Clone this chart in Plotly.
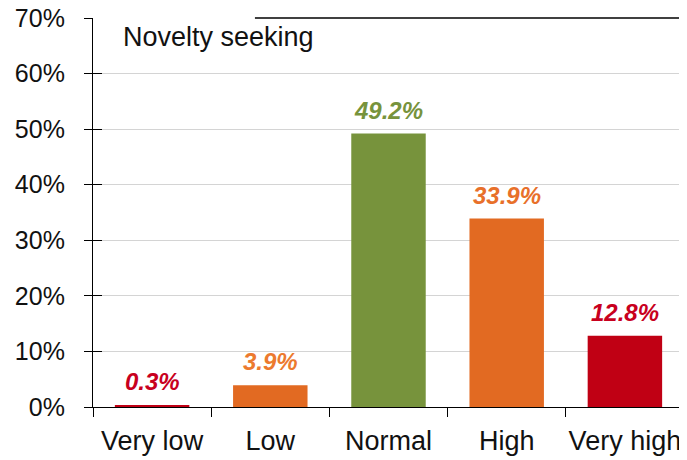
import plotly.graph_objects as go

categories = ["Very low", "Low", "Normal", "High", "Very high"]
values = [0.3, 3.9, 49.2, 33.9, 12.8]
bar_colors = ["#C00014", "#E26A22", "#77933C", "#E26A22", "#C00014"]
label_colors = ["#C8001E", "#EC7A2E", "#77933C", "#E8702A", "#C8001E"]
y_ticks = [0, 10, 20, 30, 40, 50, 60, 70]
y_tick_text = [f"{v}%" for v in y_ticks]
title_text = "Novelty seeking"

FONT = "Liberation Sans, Arial, sans-serif"

fig = go.Figure()
fig.add_trace(go.Bar(
    x=categories, y=values,
    marker=dict(color=bar_colors, line=dict(width=0)),
    showlegend=False, hoverinfo="skip",
))
# invisible trace to carry the inner half of the crossing y ticks
fig.add_trace(go.Scatter(x=[categories[0]], y=[0], yaxis="y2", mode="markers",
                         marker=dict(opacity=0), showlegend=False, hoverinfo="skip"))

for c, v, col in zip(categories, values, label_colors):
    fig.add_annotation(
        x=c, y=v, text=f"{v:.1f}%", showarrow=False, yanchor="bottom", yshift=8,
        font=dict(family=FONT, size=24, color=col, weight="bold", style="italic"),
    )

fig.add_annotation(
    xref="paper", yref="paper", x=0.047, y=0.951, xanchor="left", yanchor="middle",
    text=title_text, showarrow=False,
    font=dict(family=FONT, size=27, color="#111111"),
)

# top border (partial) and right border
fig.add_shape(type="line", xref="paper", yref="paper", x0=0.274, x1=1, y0=1, y1=1,
              line=dict(color="black", width=1.5))
fig.add_shape(type="line", xref="paper", yref="paper", x0=1, x1=1, y0=0, y1=1,
              line=dict(color="black", width=1.2))

# page body has an 8px margin, so the figure is sized/offset to compensate
fig.update_layout(
    width=679, height=452,
    margin=dict(l=85, r=3, t=10, b=53),
    paper_bgcolor="white", plot_bgcolor="white",
    bargap=0.37,
    xaxis=dict(
        type="category", showline=True, linecolor="black", linewidth=1.2,
        ticks="outside", tickson="boundaries", ticklen=9, tickcolor="black",
        showgrid=False, tickfont=dict(family=FONT, size=27, color="#111111"),
        range=[-0.5, 4.5], automargin=False, ticklabelstandoff=9,
        tickangle=0, ticklabeloverflow="allow",
    ),
    yaxis=dict(
        range=[0, 70], tickvals=y_ticks, ticktext=y_tick_text,
        showline=True, linecolor="black", linewidth=1.2,
        ticks="outside", ticklen=8, tickcolor="black",
        showgrid=True, gridcolor="#d4d4d4", gridwidth=1,
        zeroline=False, automargin=False, ticklabelstandoff=14,
        ticklabeloverflow="allow",
        tickfont=dict(family=FONT, size=25, color="#111111"),
    ),
    yaxis2=dict(
        range=[0, 70], tickvals=y_ticks, overlaying="y", side="left",
        showticklabels=False, ticks="inside", ticklen=9, tickcolor="black",
        showgrid=False, zeroline=False, showline=False, automargin=False,
    ),
)

fig.write_html("out.html")
